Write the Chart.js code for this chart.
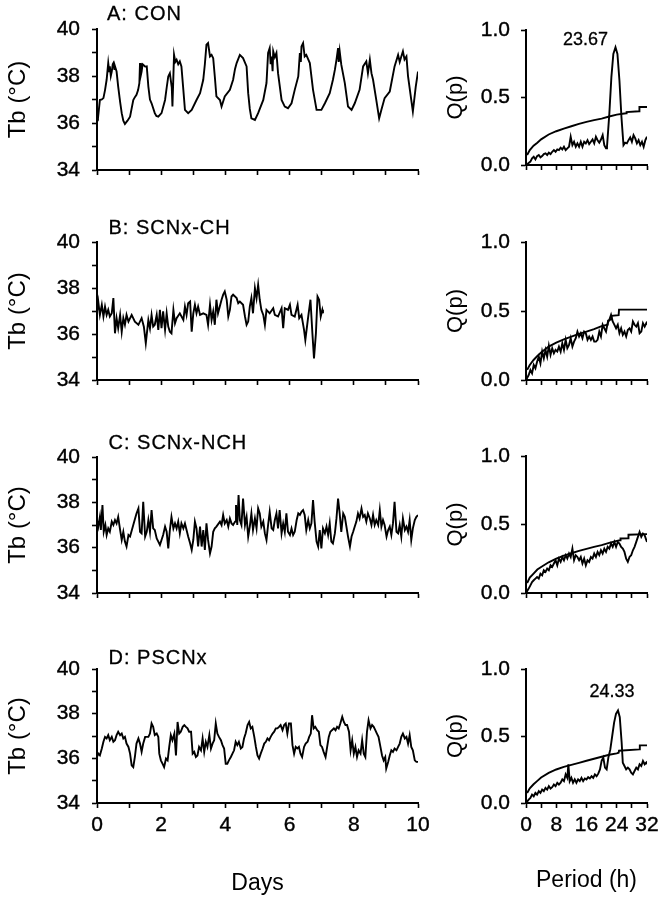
<!DOCTYPE html>
<html><head><meta charset="utf-8">
<script src="https://cdn.jsdelivr.net/npm/chart.js@4.4.1/dist/chart.umd.min.js"></script>
<style>
html,body{margin:0;padding:0;background:#fff}
body{width:663px;height:900px;overflow:hidden;position:relative;font-family:'Liberation Sans',Arial,Helvetica,sans-serif}
canvas{position:absolute}
.ttl{position:absolute;font-size:20px;line-height:20px;color:#000;letter-spacing:1px;white-space:nowrap;-webkit-text-stroke:0.3px #000}
</style></head><body>
<script>
// ---------- text ----------
const panelTitles = ['A: CON', 'B: SCNx-CH', 'C: SCNx-NCH', 'D: PSCNx'];
const tbTickLabels = [34, 36, 38, 40];
const qTickLabels = [0, 0.5, 1];
const dayTickLabels = [0, 2, 4, 6, 8, 10];
const periodTickLabels = [0, 8, 16, 24, 32];

// ---------- A: CON ----------
const aDays = [0,0.03,0.09,0.15,0.20,0.25,0.30,0.35,0.38,0.40,0.43,0.46,0.49,0.51,0.54,0.56,0.61,0.66,0.72,0.77,0.82,0.87,0.95,1.03,1.13,1.18,1.23,1.28,1.32,1.34,1.36,1.39,1.42,1.44,1.50,1.55,1.60,1.65,1.70,1.80,1.85,1.91,2.01,2.12,2.17,2.22,2.27,2.33,2.35,2.40,2.44,2.48,2.53,2.58,2.63,2.69,2.74,2.84,2.95,3.10,3.21,3.31,3.36,3.41,3.46,3.52,3.57,3.62,3.67,3.72,3.83,3.88,3.98,4.14,4.24,4.30,4.35,4.45,4.55,4.66,4.71,4.76,4.81,4.92,5.02,5.18,5.28,5.33,5.38,5.41,5.44,5.47,5.49,5.54,5.59,5.64,5.75,5.85,5.95,6.06,6.16,6.27,6.32,6.35,6.37,6.42,6.47,6.52,6.63,6.73,6.84,6.99,7.10,7.25,7.35,7.41,7.46,7.51,7.53,7.56,7.61,7.72,7.82,7.93,8.03,8.18,8.29,8.39,8.44,8.50,8.55,8.60,8.70,8.79,8.86,8.96,9.12,9.27,9.38,9.43,9.48,9.53,9.58,9.64,9.69,9.79,9.84,9.93,10.0];
const aTb = [36.27,36.2,36.98,37.0,37.06,37.4,37.84,38.55,38.2,38.41,38.0,38.19,38.5,38.55,38.3,38.41,38.19,37.55,36.9,36.42,36.1,35.96,36.1,36.27,36.98,37.1,37.20,37.4,37.70,38.55,38.0,38.19,38.5,38.48,38.4,38.41,37.55,37.0,36.84,36.42,36.3,36.27,36.42,36.98,37.5,37.98,38.12,37.5,36.70,38.90,38.6,38.69,38.5,38.62,38.41,37.41,36.56,36.42,36.56,36.98,37.27,37.84,38.5,39.33,39.40,38.83,38.9,38.76,37.98,37.13,36.98,36.70,37.13,37.41,37.84,38.3,38.55,38.90,38.76,38.41,37.27,36.6,36.20,36.13,36.42,36.98,37.70,38.98,39.19,38.5,38.83,38.2,39.05,38.8,38.98,38.12,36.98,36.70,36.63,36.84,37.41,37.98,38.98,38.6,39.26,39.40,38.83,38.90,38.55,37.41,36.56,36.56,36.84,37.27,37.84,38.26,38.69,39.19,38.6,39.05,38.48,37.70,36.70,36.56,36.84,37.41,38.41,38.62,38.12,38.69,38.12,37.84,36.98,36.20,36.56,37.06,37.34,38.41,38.90,38.6,38.83,39.05,38.7,38.83,37.98,36.98,36.49,37.55,38.19];
const aPeriod = [0,0.53,1.16,1.6,2.04,2.49,2.93,3.38,3.82,4.27,4.71,5.16,5.6,6.04,6.49,6.93,7.38,7.82,8.27,8.71,9.16,9.6,10.04,10.49,10.93,11.38,11.82,12.27,12.71,13.16,13.6,14.04,14.49,14.93,15.38,15.82,16.27,16.71,17.16,17.6,18.04,18.49,18.93,19.38,19.82,20.27,20.71,21.16,21.42,22.04,22.58,23.1,23.67,24.18,24.71,25.24,25.78,26.22,26.67,27.11,27.56,28,28.44,28.89,29.33,29.78,30.22,30.67,31.11,31.56,32];
const aQ = [0,0.012,0.025,0.049,0.061,0.042,0.066,0.074,0.057,0.066,0.081,0.086,0.074,0.091,0.081,0.098,0.11,0.098,0.115,0.11,0.128,0.115,0.135,0.11,0.123,0.135,0.209,0.147,0.172,0.135,0.16,0.135,0.172,0.135,0.172,0.16,0.184,0.155,0.172,0.189,0.16,0.209,0.184,0.165,0.189,0.221,0.147,0.123,0.135,0.381,0.651,0.823,0.872,0.823,0.627,0.356,0.147,0.165,0.16,0.184,0.204,0.172,0.221,0.197,0.16,0.184,0.147,0.172,0.135,0.184,0.209];
const aThrPeriod = [0.3,1,2,3,4,6,8,10,12,14,16,18,20,22,24,26,26.5,26.6,29.9,30,32];
const aThr = [0.074,0.11,0.143,0.165,0.19,0.226,0.25,0.27,0.287,0.305,0.32,0.332,0.344,0.359,0.373,0.381,0.383,0.392,0.398,0.43,0.43];
const aPeak = [23.67, 0.872];

// ---------- B: SCNx-CH ----------
const bDays = [0,0.04,0.09,0.15,0.20,0.25,0.30,0.35,0.40,0.46,0.51,0.56,0.61,0.66,0.72,0.77,0.82,0.87,0.92,0.98,1.08,1.18,1.29,1.39,1.46,1.52,1.60,1.65,1.70,1.75,1.80,1.86,1.91,1.96,2.01,2.06,2.12,2.17,2.22,2.27,2.32,2.38,2.43,2.48,2.58,2.69,2.74,2.79,2.84,2.90,2.95,3.00,3.05,3.10,3.15,3.21,3.31,3.41,3.46,3.52,3.57,3.62,3.67,3.72,3.77,3.88,3.93,3.98,4.04,4.09,4.14,4.19,4.24,4.35,4.40,4.45,4.55,4.61,4.66,4.71,4.76,4.81,4.86,4.92,4.97,5.02,5.07,5.12,5.18,5.23,5.28,5.38,5.49,5.54,5.64,5.75,5.80,5.85,5.95,6.01,6.06,6.16,6.25,6.30,6.37,6.45,6.49,6.58,6.65,6.71,6.76,6.82,6.87,6.92,6.97,7.02,7.04];
const bTb = [36.98,37.4,36.83,37.27,36.76,37.19,36.83,37.05,36.76,36.9,37.56,36.03,36.69,36.25,36.83,36.1,36.69,36.4,36.83,36.54,36.83,36.54,36.4,36.69,36.32,35.6,36.61,36.25,36.83,36.32,36.4,36.83,36.18,37.05,36.25,36.98,36.18,36.9,36.32,36.1,36.03,37.05,36.47,36.69,36.9,36.61,37.19,36.83,37.34,37.41,36.1,36.9,37.27,36.9,37.19,36.83,36.9,36.83,36.4,37.27,36.61,36.98,36.4,37.49,36.9,37.49,37.71,37.85,37.49,36.76,37.05,37.63,37.71,37.56,37.34,37.41,37.27,36.76,36.4,36.54,37.19,37.56,36.9,37.99,37.56,38.14,37.49,37.05,36.83,36.4,37.05,36.9,37.12,36.83,36.76,37.12,36.25,37.12,37.05,37.27,36.83,36.76,37.27,36.69,36.83,36.18,35.74,36.76,37.49,36.03,34.94,36.03,37.63,37.49,36.76,37.05,36.9];
const bPeriod = [0,0.71,1.16,1.6,2.04,2.49,2.93,3.38,3.82,4.27,4.71,5.16,5.6,6.04,6.49,6.93,7.38,7.82,8.27,8.71,9.16,9.6,10.04,10.49,10.93,11.38,11.82,12.27,12.71,13.16,13.6,14.04,14.49,14.93,15.38,15.82,16.27,16.71,17.16,17.6,18.04,18.49,18.93,19.38,19.82,20.27,20.71,21.16,21.6,22.04,22.49,22.93,23.38,23.82,24.27,24.71,25.16,25.6,26.04,26.49,26.93,27.38,27.82,28.27,28.71,29.16,29.6,30.04,30.49,30.93,31.38,31.82,32];
const bQ = [0,0.036,0.073,0.048,0.109,0.085,0.133,0.169,0.121,0.206,0.157,0.218,0.169,0.249,0.182,0.23,0.194,0.218,0.206,0.242,0.206,0.266,0.218,0.291,0.23,0.254,0.303,0.242,0.278,0.303,0.351,0.315,0.339,0.303,0.351,0.339,0.291,0.315,0.291,0.315,0.278,0.278,0.291,0.351,0.315,0.4,0.375,0.351,0.412,0.436,0.472,0.424,0.4,0.375,0.4,0.339,0.375,0.327,0.351,0.315,0.363,0.375,0.351,0.424,0.4,0.387,0.412,0.339,0.351,0.412,0.387,0.412,0.4];
const bThrPeriod = [0.3,1,2,3,4,6,8,10,12,14,16,18,20,21.6,21.7,22.5,22.6,24.5,24.6,32];
const bThr = [0.073,0.109,0.145,0.174,0.199,0.242,0.271,0.295,0.315,0.334,0.351,0.368,0.39,0.40,0.43,0.44,0.465,0.47,0.51,0.51];

// ---------- C: SCNx-NCH ----------
const cDays = [0,0.04,0.09,0.12,0.17,0.21,0.26,0.30,0.35,0.40,0.46,0.51,0.56,0.61,0.66,0.72,0.77,0.82,0.87,0.92,0.98,1.03,1.13,1.23,1.29,1.34,1.39,1.44,1.50,1.55,1.60,1.65,1.70,1.75,1.80,1.86,1.91,1.96,2.01,2.06,2.12,2.17,2.22,2.27,2.32,2.38,2.43,2.48,2.53,2.58,2.63,2.69,2.74,2.79,2.84,2.90,2.95,3.00,3.05,3.10,3.15,3.21,3.26,3.31,3.36,3.41,3.46,3.52,3.57,3.62,3.67,3.72,3.83,3.88,3.93,3.98,4.04,4.09,4.14,4.19,4.24,4.30,4.33,4.37,4.41,4.45,4.50,4.55,4.61,4.66,4.71,4.76,4.81,4.86,4.92,4.97,5.02,5.07,5.12,5.18,5.23,5.28,5.33,5.38,5.44,5.49,5.54,5.59,5.64,5.69,5.75,5.80,5.85,5.90,5.95,6.01,6.06,6.11,6.16,6.22,6.27,6.32,6.37,6.42,6.47,6.52,6.58,6.63,6.68,6.73,6.78,6.84,6.89,6.94,6.99,7.04,7.10,7.15,7.20,7.25,7.30,7.35,7.41,7.46,7.51,7.56,7.61,7.67,7.72,7.77,7.82,7.88,7.93,7.98,8.03,8.08,8.13,8.18,8.24,8.29,8.34,8.39,8.44,8.50,8.55,8.60,8.65,8.70,8.76,8.81,8.86,8.91,8.96,9.02,9.07,9.12,9.17,9.22,9.27,9.33,9.38,9.43,9.48,9.53,9.59,9.64,9.69,9.74,9.79,9.84,9.90,9.95,10.0];
const cTb = [37.22,36.93,37.36,36.78,37.88,36.7,37.0,36.56,36.85,36.7,37.15,37.0,37.22,37.07,37.36,36.78,36.34,36.7,36.27,36.05,36.56,36.49,37.0,37.51,37.73,36.7,36.63,38.02,36.49,36.7,37.22,36.7,37.66,36.85,36.78,36.41,36.27,36.12,36.34,36.56,36.93,36.7,35.97,36.78,37.36,36.85,37.07,36.85,37.15,36.63,37.07,36.85,37.07,36.78,36.49,36.19,35.9,36.34,37.15,36.85,36.05,36.93,36.05,36.78,35.9,37.07,36.34,35.75,36.05,36.7,36.85,36.93,37.15,37.0,37.44,37.07,37.22,36.93,37.29,37.07,37.0,37.15,37.88,37.0,38.32,37.22,37.0,38.17,37.0,37.36,36.49,36.93,37.51,36.78,37.29,36.85,37.73,37.51,36.93,37.15,36.63,36.34,37.0,37.58,36.85,36.78,37.22,37.51,36.85,37.66,36.63,37.07,36.7,37.51,36.7,36.56,36.85,36.56,36.7,37.22,37.51,37.44,37.58,37.66,37.44,36.78,37.22,36.85,37.07,38.10,37.15,36.27,36.05,36.78,35.97,36.85,36.63,36.93,36.56,37.07,36.27,36.19,36.63,37.29,38.17,37.51,36.7,37.51,37.36,36.93,36.49,36.05,36.49,36.7,36.93,37.15,37.51,37.29,37.73,37.36,37.44,37.15,37.51,37.29,37.0,37.44,37.0,37.22,37.0,37.66,36.93,37.22,37.0,36.49,36.78,36.93,36.56,37.07,38.02,36.7,36.63,37.0,36.49,37.29,36.78,36.93,36.7,37.22,36.34,36.85,37.22,37.36,37.44];
const cPeriod = [0,0.71,1.16,1.6,2.04,2.49,2.93,3.38,3.82,4.27,4.71,5.16,5.6,6.04,6.49,6.93,7.38,7.82,8.27,8.71,9.16,9.6,10.04,10.49,10.93,11.38,11.82,12.27,12.71,13.16,13.6,14.04,14.49,14.93,15.38,15.82,16.27,16.71,17.16,17.6,18.04,18.49,18.93,19.38,19.82,20.27,20.71,21.16,21.6,22.04,22.49,22.93,23.38,23.82,24.27,24.71,25.16,25.6,26.04,26.49,26.93,27.38,27.82,28.27,28.71,29.16,29.6,30.04,30.49,30.93,31.38,31.82,32];
const cQ = [0,0.032,0.056,0.08,0.093,0.105,0.117,0.105,0.141,0.129,0.166,0.154,0.178,0.166,0.202,0.19,0.215,0.239,0.202,0.251,0.227,0.263,0.239,0.276,0.251,0.288,0.263,0.324,0.239,0.276,0.263,0.239,0.263,0.215,0.251,0.202,0.239,0.227,0.263,0.251,0.288,0.263,0.3,0.276,0.312,0.288,0.324,0.3,0.337,0.324,0.361,0.337,0.373,0.337,0.373,0.361,0.337,0.324,0.3,0.251,0.227,0.263,0.276,0.312,0.337,0.373,0.41,0.446,0.41,0.434,0.422,0.385,0.373];
const cThrPeriod = [0.3,1,2,3,4,6,8,10,12,14,16,18,20,22,24,24.9,25,27,27.1,32];
const cThr = [0.073,0.112,0.141,0.171,0.19,0.224,0.251,0.273,0.29,0.307,0.322,0.337,0.349,0.366,0.38,0.385,0.398,0.40,0.425,0.43];

// ---------- D: PSCNx ----------
const dDays = [0,0.04,0.09,0.15,0.20,0.25,0.30,0.35,0.40,0.46,0.51,0.56,0.61,0.66,0.72,0.77,0.82,0.87,0.92,0.98,1.03,1.08,1.13,1.18,1.23,1.29,1.34,1.39,1.44,1.50,1.55,1.60,1.65,1.70,1.75,1.80,1.86,1.91,1.94,1.99,2.04,2.09,2.15,2.20,2.25,2.30,2.35,2.41,2.46,2.51,2.56,2.61,2.67,2.72,2.77,2.82,2.87,2.93,2.98,3.03,3.08,3.13,3.18,3.24,3.29,3.34,3.39,3.44,3.50,3.55,3.60,3.65,3.70,3.75,3.80,3.86,3.91,3.96,4.01,4.06,4.11,4.17,4.22,4.27,4.32,4.37,4.42,4.48,4.53,4.58,4.63,4.69,4.74,4.79,4.84,4.90,4.95,5.00,5.05,5.10,5.16,5.21,5.26,5.31,5.36,5.41,5.47,5.52,5.57,5.62,5.67,5.72,5.78,5.83,5.88,5.93,5.98,6.04,6.09,6.14,6.19,6.24,6.29,6.34,6.39,6.45,6.50,6.56,6.61,6.66,6.70,6.75,6.80,6.86,6.91,6.96,7.01,7.06,7.12,7.17,7.22,7.27,7.32,7.38,7.43,7.48,7.53,7.58,7.64,7.69,7.74,7.79,7.85,7.90,7.95,8.00,8.05,8.10,8.15,8.21,8.26,8.31,8.36,8.41,8.46,8.52,8.57,8.62,8.67,8.72,8.77,8.83,8.88,8.93,8.98,9.01,9.07,9.12,9.17,9.22,9.27,9.33,9.38,9.43,9.48,9.53,9.59,9.64,9.69,9.74,9.79,9.84,9.90,9.95,10.0];
const dTb = [36.06,36.21,36.13,36.44,36.74,36.96,36.89,37.04,36.81,36.96,36.74,36.81,37.04,37.19,37.04,37.11,36.89,36.96,36.66,36.51,36.21,35.69,35.61,36.06,36.66,36.89,36.66,36.29,36.66,36.96,36.96,36.96,37.11,37.56,37.41,37.04,37.11,36.96,36.21,35.91,35.76,35.61,35.99,35.91,36.51,37.04,36.81,37.11,36.13,37.63,37.11,37.19,37.41,37.49,37.41,37.34,37.19,37.19,36.21,36.29,36.06,36.13,36.51,36.36,36.89,36.29,36.74,36.51,37.04,36.44,36.66,36.81,37.56,37.11,36.96,36.81,36.59,36.44,35.76,35.76,35.91,36.06,36.21,36.36,36.74,36.59,36.74,36.44,36.51,36.89,37.11,37.49,37.63,37.34,37.41,36.96,36.51,36.13,35.99,36.21,36.44,36.66,36.74,36.89,36.81,36.96,37.11,37.19,37.34,37.34,37.41,37.49,37.26,37.49,37.56,37.11,37.56,37.56,36.59,36.21,36.51,36.44,36.51,36.21,36.06,36.51,36.66,36.74,36.96,37.11,37.93,37.34,37.41,37.26,37.19,36.59,36.51,36.29,36.06,36.51,36.96,37.19,37.26,37.34,37.26,37.41,37.34,37.56,37.86,37.63,37.49,37.49,37.19,36.36,36.81,36.21,36.51,36.06,36.36,36.21,36.81,36.21,36.06,37.19,37.71,37.34,37.49,37.41,37.26,37.11,36.96,36.51,36.13,35.91,36.06,35.54,35.84,36.13,36.36,36.29,36.44,36.36,36.51,36.66,36.96,37.11,36.89,36.96,36.66,37.04,36.51,36.36,35.91,35.84,35.84];
const dPeriod = [0,0.71,1.16,1.6,2.04,2.49,2.93,3.38,3.82,4.27,4.71,5.16,5.6,6.04,6.49,6.93,7.38,7.82,8.27,8.71,9.16,9.6,10.04,10.49,10.93,11.2,11.56,12,12.44,12.89,13.33,13.78,14.22,14.67,15.11,15.56,16,16.44,16.89,17.33,17.78,18.22,18.67,19.11,19.56,20,20.44,20.89,21.33,21.78,22.3,22.8,23.3,23.8,24.33,24.8,25.3,25.6,26.04,26.49,26.93,27.38,27.82,28.27,28.71,29.16,29.6,30.04,30.49,30.93,31.38,31.82,32];
const dQ = [0,0.025,0.038,0.063,0.05,0.075,0.063,0.088,0.075,0.1,0.088,0.113,0.1,0.126,0.108,0.118,0.138,0.126,0.151,0.138,0.151,0.176,0.163,0.214,0.188,0.289,0.163,0.188,0.151,0.176,0.151,0.176,0.163,0.188,0.163,0.183,0.176,0.193,0.183,0.2,0.188,0.214,0.2,0.219,0.251,0.314,0.339,0.264,0.251,0.339,0.40,0.50,0.60,0.665,0.69,0.64,0.45,0.30,0.276,0.251,0.264,0.251,0.226,0.214,0.239,0.264,0.251,0.289,0.276,0.314,0.289,0.302,0.289];
const dThrPeriod = [0.3,1,2,3,4,6,8,10,12,14,16,18,20,22,24,24.5,24.6,30,30.1,32];
const dThr = [0.075,0.11,0.14,0.165,0.19,0.225,0.25,0.27,0.285,0.30,0.315,0.33,0.345,0.36,0.37,0.375,0.39,0.40,0.43,0.43];
const dPeak = [24.33, 0.69];

// ---------- drawing ----------
const FONT = "'Liberation Sans', Arial, Helvetica, sans-serif";
Chart.defaults.font.family = FONT;
Chart.defaults.color = '#000';

const peakLabel = {
  id: 'peakLabel',
  afterDatasetsDraw(chart, args, o) {
    if (!o || !o.text) return;
    const ctx = chart.ctx, xs = chart.scales.x, ys = chart.scales.y;
    ctx.save();
    ctx.font = '18px ' + FONT;
    ctx.fillStyle = '#000';
    ctx.strokeStyle = '#000';
    ctx.lineWidth = 0.3;
    ctx.textAlign = 'center';
    ctx.textBaseline = 'middle';
    const px = xs.getPixelForValue(o.at[0]) + o.dx, py = ys.getPixelForValue(o.at[1]) + o.dy;
    ctx.fillText(o.text, px, py);
    ctx.strokeText(o.text, px, py);
    ctx.restore();
  }
};

const pts = (xs, ys) => xs.map((v, i) => ({x: v, y: ys[i]}));
const PAD_TOP = 28;

function panel(opt) {
  const xH = opt.bottom ? 95 : 28;
  const plotH = opt.row[1] - opt.row[0];
  const c = document.createElement('canvas');
  c.width = opt.w;
  c.height = PAD_TOP + plotH + xH;
  c.style.left = opt.left + 'px';
  c.style.top = (opt.row[0] - PAD_TOP) + 'px';
  document.body.appendChild(c);
  const tickFont = {family: FONT, size: 21};
  const grid = {drawOnChartArea: false, drawTicks: true, tickLength: 5, tickColor: '#000', tickWidth: 1.6};
  const ds = opt.series.map(s => ({
    data: s, borderColor: '#000', borderWidth: 1.9, pointRadius: 0, tension: 0, fill: false
  }));
  new Chart(c, {
    type: 'line',
    data: {datasets: ds},
    options: {
      responsive: false, animation: false, events: [],
      layout: {padding: {left: 0, top: PAD_TOP, right: opt.padRight, bottom: 0}},
      plugins: {legend: {display: false}, tooltip: {enabled: false}, peakLabel: opt.peak || {}},
      scales: {
        x: {
          type: 'linear', min: opt.xMin, max: opt.xMax,
          ticks: {stepSize: opt.xStep, autoSkip: false, maxRotation: 0, font: tickFont, color: '#000', padding: 5,
                  textStrokeColor: '#000', textStrokeWidth: 0.4,
                  callback: v => (opt.bottom && opt.xLabels.includes(v)) ? String(v) : ''},
          grid: grid,
          border: {color: '#000', width: 2},
          title: {display: !!opt.bottom, text: opt.xTitle, color: '#000', font: {family: FONT, size: 23},
                  padding: {top: 0, bottom: opt.xTitlePad}},
          afterFit: s => { s.height = xH; }
        },
        y: {
          type: 'linear', min: opt.yMin, max: opt.yMax,
          ticks: {stepSize: opt.yStep, autoSkip: false, font: tickFont, color: '#000', padding: opt.yTickPad,
                  textStrokeColor: '#000', textStrokeWidth: 0.4,
                  callback: opt.yFmt},
          grid: grid,
          border: {color: '#000', width: 2},
          title: {display: true, text: opt.yTitle, color: '#000', font: {family: FONT, size: opt.yTitleSize},
                  padding: {top: opt.yTitlePad, bottom: 0}},
          afterFit: s => { s.width = opt.yW; }
        }
      }
    },
    plugins: [peakLabel]
  });
}

const leftRows = [[29, 170], [242, 380], [457, 593], [669, 803]];
const rightRows = [[30, 165], [242, 380], [456, 593], [669, 803]];
const leftSeries = [[aDays, aTb], [bDays, bTb], [cDays, cTb], [dDays, dTb]];
const rightSeries = [[aPeriod, aQ, aThrPeriod, aThr], [bPeriod, bQ, bThrPeriod, bThr],
                     [cPeriod, cQ, cThrPeriod, cThr], [dPeriod, dQ, dThrPeriod, dThr]];
const peaks = [{text: '23.67', at: aPeak, dx: -30, dy: -7}, null, null, {text: '24.33', at: dPeak, dx: -6, dy: -19}];
const titleTops = [3, 217, 432, 647];
const titleLefts = [107, 108.5, 108.5, 108.5];

for (let r = 0; r < 4; r++) {
  const bottom = r === 3;
  panel({
    left: 0, w: 436, row: leftRows[r], bottom, padRight: 18,
    series: [pts(leftSeries[r][0], leftSeries[r][1])],
    xMin: 0, xMax: 10, xStep: 1, xLabels: dayTickLabels, xTitle: 'Days', xTitlePad: 1,
    yMin: 34, yMax: 40, yStep: 1, yW: 97, yTickPad: 12, yTitle: 'Tb (°C)', yTitlePad: 4, yTitleSize: 24,
    yFmt: v => tbTickLabels.includes(v) ? String(v) : ''
  });
  panel({
    left: 440, w: 225, row: rightRows[r], bottom, padRight: 18,
    series: [pts(rightSeries[r][0], rightSeries[r][1]), pts(rightSeries[r][2], rightSeries[r][3])],
    xMin: 0, xMax: 32, xStep: 4, xLabels: periodTickLabels, xTitle: 'Period (h)', xTitlePad: 4,
    yMin: 0, yMax: 1, yStep: 0.5, yW: 86, yTickPad: 11, yTitle: 'Q(p)', yTitlePad: 3, yTitleSize: 22,
    yFmt: v => qTickLabels.some(q => Math.abs(q - v) < 1e-9) ? v.toFixed(1) : '',
    peak: peaks[r]
  });
  const t = document.createElement('div');
  t.className = 'ttl';
  t.textContent = panelTitles[r];
  t.style.left = titleLefts[r] + 'px';
  t.style.top = titleTops[r] + 'px';
  document.body.appendChild(t);
}
</script>
</body></html>
